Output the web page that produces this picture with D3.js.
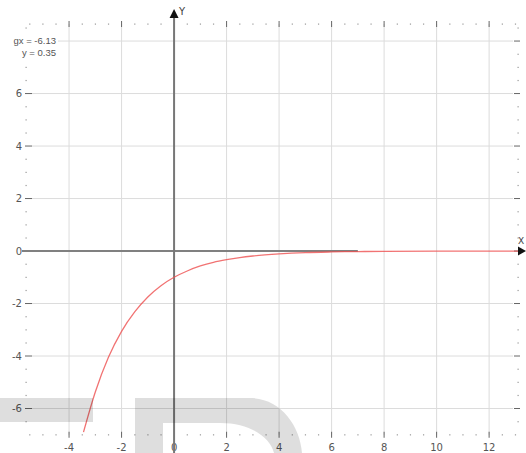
<!DOCTYPE html>
<html>
<head>
<meta charset="utf-8">
<script src="https://cdn.jsdelivr.net/npm/d3@7"></script>
<style>
  body { margin: 0; background: #fff; }
  svg { display: block; font-family: "DejaVu Sans", Arial, sans-serif; }
</style>
</head>
<body>
<div id="chart"></div>
<script>
// curve
const curveX = [-3.45, -3, -2.5, -2, -1.5, -1, -0.5, 0, 0.5, 1, 1.5, 2, 2.5, 3, 4, 5, 6, 7, 8, 10, 13.3];
const curveY = [-6.9, -5.37, -4.05, -3.06, -2.32, -1.75, -1.32, -1, -0.76, -0.57, -0.43, -0.33, -0.25, -0.19, -0.11, -0.06, -0.035, -0.02, -0.011, -0.004, -0.001];
const xTicks = [-4, -2, 0, 2, 4, 6, 8, 10, 12];
const yTicks = [-6, -4, -2, 0, 2, 4, 6];
const yGrid = [-6, -4, -2, 0, 2, 4, 6, 8];
const readout = ["gx = -6.13", "y = 0.35"];

const width = 526, height = 453;

const x = d3.scaleLinear().domain([-5.64, 13.1]).range([26, 518]);
const y = d3.scaleLinear().domain([-7, 8.65]).range([434.75, 24]);

const svg = d3.select("#chart").append("svg")
    .attr("width", width)
    .attr("height", height);

// Grid lines
svg.append("g").selectAll("line")
    .data(xTicks.filter(d => d !== 0))
    .enter().append("line")
    .attr("x1", d => x(d)).attr("x2", d => x(d))
    .attr("y1", y(8.65)).attr("y2", y(-7))
    .attr("stroke", "#dcdcdc").attr("stroke-width", 1);

svg.append("g").selectAll("line")
    .data(yGrid.filter(d => d !== 0))
    .enter().append("line")
    .attr("x1", 32).attr("x2", 513)
    .attr("y1", d => y(d)).attr("y2", d => y(d))
    .attr("stroke", "#dcdcdc").attr("stroke-width", 1);

// Minor dots on the frame (every 0.5)
const halfX = d3.range(-5.5, 13.01, 0.5).filter(d => d % 2 !== 0);
const halfY = d3.range(-6.5, 8.51, 0.5).filter(d => d % 2 !== 0);
const dots = svg.append("g").attr("fill", "#999");
[y(8.65), y(-7)].forEach(py => {
    dots.selectAll(null).data(halfX).enter().append("rect")
        .attr("x", d => x(d) - 0.5).attr("y", py - 0.5)
        .attr("width", 1.2).attr("height", 1.2);
});
[x(-5.64), x(13.1)].forEach(px => {
    dots.selectAll(null).data(halfY).enter().append("rect")
        .attr("x", px - 0.5).attr("y", d => y(d) - 0.5)
        .attr("width", 1.2).attr("height", 1.2);
});

// Major ticks on top and bottom rows
[y(8.65), y(-7)].forEach(py => {
    svg.append("g").selectAll("line")
        .data(xTicks.filter(d => d !== 0))
        .enter().append("line")
        .attr("x1", d => x(d)).attr("x2", d => x(d))
        .attr("y1", py - 3).attr("y2", py + 3)
        .attr("stroke", "#666").attr("stroke-width", 1);
});

// Major dashes on left and right columns
svg.append("g").selectAll("line")
    .data(yTicks)
    .enter().append("line")
    .attr("x1", 25).attr("x2", 32)
    .attr("y1", d => y(d)).attr("y2", d => y(d))
    .attr("stroke", "#666").attr("stroke-width", 1);
svg.append("g").selectAll("line")
    .data(yGrid)
    .enter().append("line")
    .attr("x1", 514).attr("x2", 520)
    .attr("y1", d => y(d)).attr("y2", d => y(d))
    .attr("stroke", "#666").attr("stroke-width", 1);

// Tick labels
svg.append("g").selectAll("text")
    .data(xTicks)
    .enter().append("text")
    .attr("x", d => x(d))
    .attr("y", 451)
    .attr("text-anchor", "middle")
    .attr("font-size", 10)
    .attr("fill", "#555")
    .text(d => d);

svg.append("g").selectAll("text")
    .data(yTicks)
    .enter().append("text")
    .attr("x", 22)
    .attr("y", d => y(d) + 3.5)
    .attr("text-anchor", "end")
    .attr("font-size", 10)
    .attr("fill", "#555")
    .text(d => d);

// Axes
svg.append("line")
    .attr("x1", 22).attr("x2", x(7))
    .attr("y1", y(0)).attr("y2", y(0))
    .attr("stroke", "#808080").attr("stroke-width", 2);

svg.append("line")
    .attr("x1", x(0)).attr("x2", x(0))
    .attr("y1", 16).attr("y2", height)
    .attr("stroke", "#777").attr("stroke-width", 2);

// Curve
svg.append("clipPath").attr("id", "clip")
    .append("rect")
    .attr("x", x(-5.64)).attr("y", y(8.65))
    .attr("width", x(13.1) - x(-5.64) + 10)
    .attr("height", y(-7) - y(8.65));

const line = d3.line()
    .x((d, i) => x(curveX[i]))
    .y(d => y(d))
    .curve(d3.curveMonotoneX);

svg.append("path")
    .datum(curveY)
    .attr("clip-path", "url(#clip)")
    .attr("fill", "none")
    .attr("stroke", "#ee5050")
    .attr("stroke-width", 1.3)
    .attr("stroke-opacity", 0.8)
    .attr("d", line);

// Arrowheads and axis names
svg.append("path")
    .attr("d", `M${x(0)},9 L${x(0) - 4.5},18 L${x(0) + 4.5},18 Z`)
    .attr("fill", "#111");
svg.append("path")
    .attr("d", `M526,${y(0)} L518,${y(0) - 4.5} L518,${y(0) + 4.5} Z`)
    .attr("fill", "#111");
svg.append("text")
    .attr("x", x(0) + 5).attr("y", 15)
    .attr("font-size", 10).attr("fill", "#444")
    .text("Y");
svg.append("text")
    .attr("x", 518).attr("y", y(0) - 7)
    .attr("font-size", 9).attr("fill", "#444")
    .text("X");

// Cursor readout
svg.append("rect")
    .attr("x", 12).attr("y", 33).attr("width", 46).attr("height", 26)
    .attr("fill", "#fff");
svg.append("g").selectAll("text")
    .data(readout)
    .enter().append("text")
    .attr("x", 56)
    .attr("y", (d, i) => 43.5 + i * 12)
    .attr("text-anchor", "end")
    .attr("font-family", "'Liberation Sans', Arial, sans-serif")
    .attr("font-size", 9.5)
    .attr("fill", "#555")
    .text(d => d);

// Watermark
svg.append("path")
    .attr("fill", "#000")
    .attr("fill-opacity", 0.13)
    .attr("fill-rule", "evenodd")
    .attr("d", "M0,398 H93 V422 H0 Z " +
               "M135,453 V398 H250 C280,398 300,425 302,453 Z " +
               "M163,453 V423 H220 C250,423 270,437 274,453 Z");
</script>
</body>
</html>
